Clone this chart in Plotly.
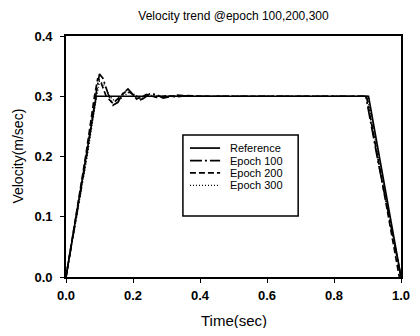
import plotly.graph_objects as go

# ---- data ----
ref_t = [0.0, 0.09, 0.903, 1.0]
ref_v = [0.0, 0.30, 0.30, 0.0]

e100_t = [0.0, 0.03, 0.06, 0.09, 0.10, 0.11, 0.125, 0.14, 0.155, 0.17, 0.185, 0.20, 0.215, 0.23,
          0.25, 0.27, 0.29, 0.31, 0.33, 0.35, 0.40, 0.50, 0.60, 0.70, 0.80, 0.895, 0.93, 0.96, 1.0]
e100_v = [0.0, 0.095, 0.195, 0.305, 0.337, 0.330, 0.305, 0.285, 0.290, 0.305, 0.312, 0.303, 0.293, 0.296,
          0.304, 0.303, 0.297, 0.299, 0.302, 0.301, 0.300, 0.300, 0.300, 0.300, 0.300, 0.300, 0.196, 0.110, 0.0]

e200_t = [0.0, 0.03, 0.06, 0.085, 0.095, 0.105, 0.12, 0.14, 0.16, 0.18, 0.195, 0.21, 0.225, 0.24,
          0.27, 0.30, 0.33, 0.36, 0.40, 0.50, 0.60, 0.70, 0.80, 0.897, 0.93, 0.96, 0.995]
e200_v = [0.0, 0.100, 0.205, 0.300, 0.330, 0.322, 0.300, 0.288, 0.298, 0.309, 0.305, 0.296, 0.298, 0.303,
          0.298, 0.301, 0.299, 0.301, 0.300, 0.300, 0.300, 0.300, 0.300, 0.300, 0.200, 0.110, 0.0]

e300_t = [0.0, 0.03, 0.06, 0.09, 0.10, 0.115, 0.13, 0.145, 0.165, 0.185, 0.20, 0.22, 0.24, 0.26,
          0.29, 0.32, 0.36, 0.40, 0.50, 0.60, 0.70, 0.80, 0.90, 0.93, 0.96, 1.0]
e300_v = [0.0, 0.092, 0.190, 0.295, 0.325, 0.318, 0.300, 0.292, 0.297, 0.306, 0.304, 0.298, 0.300, 0.302,
          0.299, 0.301, 0.300, 0.300, 0.300, 0.300, 0.300, 0.300, 0.300, 0.205, 0.115, 0.0]

series_names = ["Reference", "Epoch 100", "Epoch 200", "Epoch 300"]
x_ticks = [0.0, 0.2, 0.4, 0.6, 0.8, 1.0]
y_ticks = [0.0, 0.1, 0.2, 0.3, 0.4]
x_title = "Time(sec)"
y_title = "Velocity(m/sec)"
chart_title = "Velocity trend @epoch 100,200,300"

# ---- styles ----
FONT = "Liberation Sans, Arial, sans-serif"
dashes = ["solid", "12px,3px,2px,3px", "6px,3px", "1px,2px"]
widths = [1.7, 1.7, 1.7, 1.4]

fig = go.Figure()
for name, t, v, d, w in zip(series_names,
                            [ref_t, e100_t, e200_t, e300_t],
                            [ref_v, e100_v, e200_v, e300_v],
                            dashes, widths):
    fig.add_trace(go.Scatter(x=t, y=v, mode="lines", name=name,
                             line=dict(color="black", width=w, dash=d),
                             showlegend=False))

# manual compact legend (paper coordinates)
box = dict(x0=0.349, x1=0.693, y0=0.253, y1=0.589)
fig.add_shape(type="rect", xref="paper", yref="paper", **box,
              line=dict(color="black", width=1.5), fillcolor="white", layer="above")
row_y = [0.535, 0.483, 0.432, 0.380]
for name, d, w, ry in zip(series_names, dashes, widths, row_y):
    fig.add_shape(type="line", xref="paper", yref="paper", x0=0.370, x1=0.460, y0=ry, y1=ry,
                  line=dict(color="black", width=w, dash=d), layer="above")
    fig.add_annotation(xref="paper", yref="paper", x=0.485, y=ry, text=name, showarrow=False,
                       xanchor="left", yanchor="middle",
                       font=dict(family=FONT, size=11, color="black"))

# axis titles
fig.add_annotation(xref="paper", yref="paper", x=0.5, y=-0.18, text=x_title, showarrow=False,
                   xanchor="center", yanchor="middle",
                   font=dict(family=FONT, size=15, color="black"))
fig.add_annotation(xref="paper", yref="paper", x=-0.146, y=0.5, text=y_title, showarrow=False,
                   textangle=-90, xanchor="center", yanchor="middle",
                   font=dict(family=FONT, size=14, color="black"))

axis_common = dict(showline=True, linecolor="black", linewidth=1.6, mirror=True,
                   ticks="outside", ticklen=4, tickwidth=1.2, tickcolor="black",
                   showgrid=False, zeroline=False, automargin=False,
                   ticklabeloverflow="allow",
                   tickfont=dict(family=FONT, size=13, color="black", weight="bold"))

fig.update_layout(
    width=404, height=320,
    margin=dict(l=58, r=11, t=28, b=51),
    paper_bgcolor="white", plot_bgcolor="white",
    title=dict(text=chart_title, xref="paper", x=0.5, xanchor="center",
               yref="container", y=0.975, yanchor="middle",
               font=dict(family=FONT, size=12, color="black")),
    xaxis=dict(range=[0, 1], tickvals=x_ticks, ticktext=[f"{v:.1f}" for v in x_ticks],
               ticklabelstandoff=2, **axis_common),
    yaxis=dict(range=[0, 0.4], tickvals=y_ticks, ticktext=[f"{v:.1f}" for v in y_ticks],
               ticklabelstandoff=5, **axis_common),
    showlegend=False,
)

fig.write_html("out.html")
